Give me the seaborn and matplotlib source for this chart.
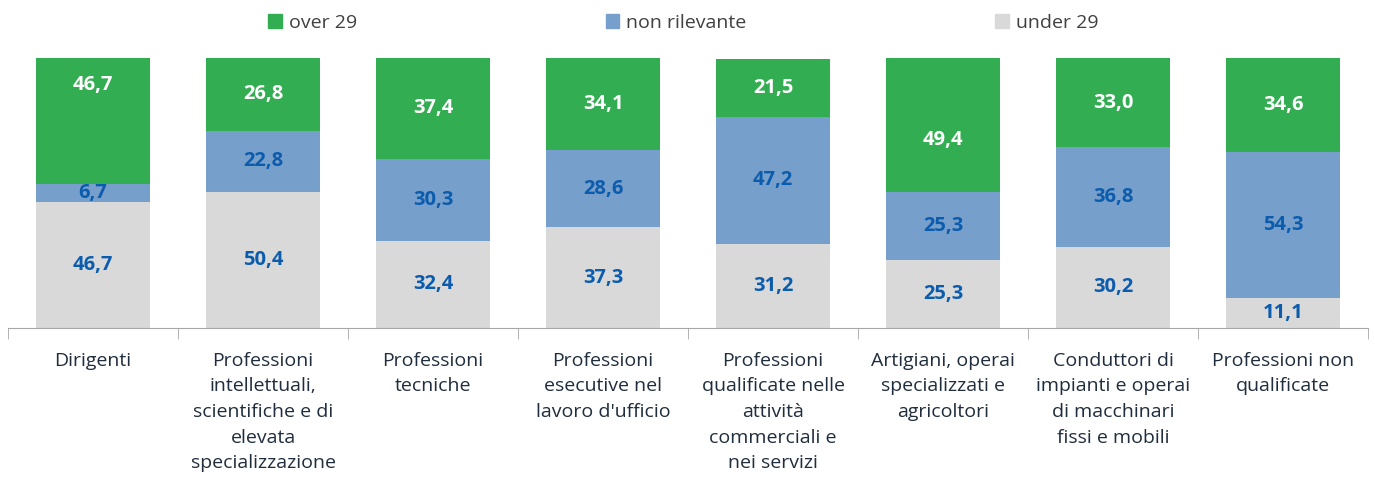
import numpy as np
import pandas as pd
import seaborn as sns
import matplotlib.pyplot as plt
from matplotlib.patches import Patch

# Data (percentages)
categories = ['Dirigenti',
              'Professioni\nintellettuali,\nscientifiche e di\nelevata\nspecializzazione',
              'Professioni\ntecniche',
              'Professioni\nesecutive nel\nlavoro d\'ufficio',
              'Professioni\nqualificate nelle\nattività\ncommerciali e\nnei servizi',
              'Artigiani, operai\nspecializzati e\nagricoltori',
              'Conduttori di\nimpianti e operai\ndi macchinari\nfissi e mobili',
              'Professioni non\nqualificate']
over29 = [46.7, 26.8, 37.4, 34.1, 21.5, 49.4, 33.0, 34.6]
non_rilevante = [6.7, 22.8, 30.3, 28.6, 47.2, 25.3, 36.8, 54.3]
under29 = [46.7, 50.4, 32.4, 37.3, 31.2, 25.3, 30.2, 11.1]

sns.set_style('white')
plt.rcParams['font.family'] = ['Open Sans', 'DejaVu Sans']

green = '#33ad52'
blue = '#779fcc'
grey = '#d9d9d9'
label_blue = '#0b5cad'

df = pd.DataFrame({'cat': categories, 'over': over29,
                   'nonril': non_rilevante, 'under': under29})
df['c_under'] = df['under']
df['c_nonril'] = df['under'] + df['nonril']
df['c_over'] = df['c_nonril'] + df['over']

fig = plt.figure(figsize=(13.75, 4.88), dpi=100)
ax = fig.add_axes([8 / 1375, 1 - 328 / 488, 1360 / 1375, 270 / 488])

# stacked bars drawn as overlapping cumulative bars
for col, color in [('c_over', green), ('c_nonril', blue), ('c_under', grey)]:
    sns.barplot(data=df, x='cat', y=col, color=color, saturation=1,
                width=0.67, linewidth=0, ax=ax, zorder=2)

ax.set_xlim(-0.5, 7.5)
ax.set_ylim(0, 100.1)

fmt = lambda v: f'{v:.1f}'.replace('.', ',')
# some green labels were moved off-centre in the original
green_shift = {0: 13.5, 5: -5.5}
for i, row in df.iterrows():
    ax.text(i, row['c_under'] / 2, fmt(row['under']), ha='center', va='center',
            color=label_blue, fontsize=14.5, fontweight='bold', zorder=3)
    ax.text(i, (row['c_under'] + row['c_nonril']) / 2, fmt(row['nonril']),
            ha='center', va='center', color=label_blue, fontsize=14.5,
            fontweight='bold', zorder=3)
    ax.text(i, (row['c_nonril'] + row['c_over']) / 2 + green_shift.get(i, 0),
            fmt(row['over']), ha='center', va='center', color='white',
            fontsize=14.5, fontweight='bold', zorder=3)

# axis styling
sns.despine(ax=ax, left=True)
ax.spines['bottom'].set_color('#a6a6a6')
ax.set_yticks([])
ax.set_xlabel('')
ax.set_ylabel('')
ax.set_xticks(range(len(categories)))
ax.set_xticklabels(categories, fontsize=14, color='#1f2d3d', linespacing=1.55)
ax.tick_params(axis='x', which='major', length=0, pad=17)
ax.set_xticks(np.arange(-0.5, len(categories)), minor=True)
ax.tick_params(axis='x', which='minor', length=8, color='#a6a6a6', bottom=True)

handles = [Patch(color=green, label='over 29'),
           Patch(color=blue, label='non rilevante'),
           Patch(color=grey, label='under 29')]
fig.legend(handles=handles, loc='center', bbox_to_anchor=(0.497, 0.953), ncol=3,
           frameon=False, fontsize=14, handlelength=0.7, handleheight=0.7,
           handletextpad=0.35, columnspacing=12.8, labelcolor='#404040')

fig.savefig('out.png', dpi=100)
